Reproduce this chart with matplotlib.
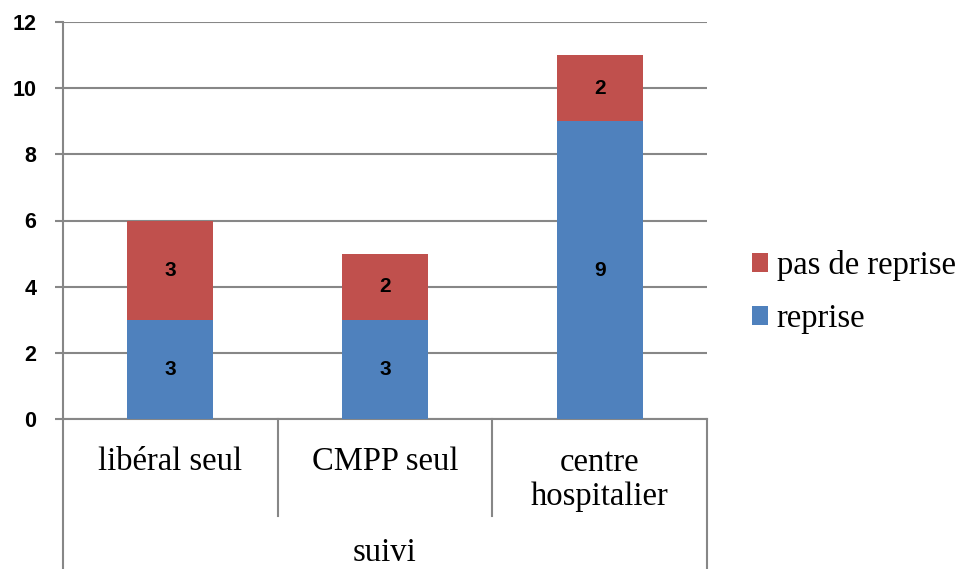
import numpy as np
import matplotlib.pyplot as plt
import matplotlib.transforms as mtransforms

# ---------- Data ----------
categories = ["libéral seul", "CMPP seul", "centre\nhospitalier"]
reprise = [3, 3, 9]
pas_de_reprise = [3, 2, 2]
group_label = "suivi"
y_ticks = [0, 2, 4, 6, 8, 10, 12]

# ---------- Theme ----------
BLUE = "#4F81BD"
RED = "#C0504D"
GRID = "#878787"
SERIF = "Liberation Serif"
SANS = "Liberation Sans"

W, H = 959, 569
fig = plt.figure(figsize=(W / 100, H / 100), dpi=100)
ax = fig.add_axes([63 / W, (H - 419) / H, (707 - 63) / W, (419 - 22) / H])

x = np.arange(len(categories))
bw = 0.4
ax.bar(x, reprise, bw, color=BLUE, label="reprise", zorder=3)
ax.bar(x, pas_de_reprise, bw, bottom=reprise, color=RED,
       label="pas de reprise", zorder=3)

# segment labels
for xi, r, p in zip(x, reprise, pas_de_reprise):
    ax.text(xi, r / 2, str(r), ha="center", va="center", fontsize=15,
            fontweight="bold", family=SANS, zorder=4)
    ax.text(xi, r + p / 2, str(p), ha="center", va="center", fontsize=15,
            fontweight="bold", family=SANS, zorder=4)

ax.set_xlim(-0.5, len(categories) - 0.5)
ax.set_ylim(0, 12)
ax.set_yticks(y_ticks)
ax.set_yticklabels([str(t) for t in y_ticks])
for lab in ax.get_yticklabels():
    lab.set_fontfamily(SANS)
    lab.set_fontweight("bold")
    lab.set_fontsize(15.5)
ax.yaxis.grid(True, color=GRID, linewidth=1.5, zorder=0)
ax.tick_params(axis="y", length=6, width=1.5, color=GRID, pad=13)
ax.set_xticks([])

for s in ["top", "right"]:
    ax.spines[s].set_visible(False)
for s in ["left", "bottom"]:
    ax.spines[s].set_color(GRID)
    ax.spines[s].set_linewidth(1.5)

# multi-level category axis
trans = mtransforms.blended_transform_factory(ax.transData, ax.transAxes)
y_inner = (419 - 516) / (419 - 22)
y_outer = (419 - 575) / (419 - 22)
edges = np.arange(len(categories) + 1) - 0.5
for i, e in enumerate(edges):
    bottom = y_outer if i in (0, len(edges) - 1) else y_inner
    ax.plot([e, e], [0, bottom], color=GRID, linewidth=1.5,
            transform=trans, clip_on=False)

for xi, lab in zip(x, categories):
    y_px = 480 if "\n" in lab else 462
    ax.text(xi, (419 - y_px) / (419 - 22), lab, ha="center", va="center",
            fontsize=23.5, family=SERIF, transform=trans, linespacing=1.15)

ax.text(1, (419 - 553) / (419 - 22), group_label, ha="center", va="center",
        fontsize=23.5, family=SERIF, transform=trans)

handles, labels = ax.get_legend_handles_labels()
fig.legend(handles[::-1], labels[::-1], loc="center left",
           bbox_to_anchor=(739 / W, 1 - 292 / H), frameon=False,
           prop={"family": SERIF, "size": 23.5}, handlelength=0.5,
           handleheight=0.5, handletextpad=0.25, labelspacing=0.7,
           borderaxespad=0)

fig.savefig("out.png", dpi=100)
